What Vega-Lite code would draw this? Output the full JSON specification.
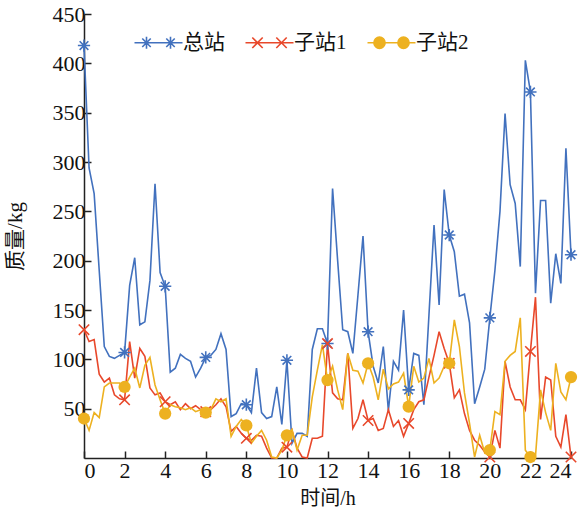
{
  "$schema": "https://vega.github.io/schema/vega-lite/v6.json",
  "width": 487,
  "height": 444,
  "autosize": {"type": "none"},
  "padding": {"left": 84, "top": 14, "right": 13, "bottom": 54},
  "background": "white",
  "config": {
    "view": {"stroke": null},
    "font": "Liberation Serif, Noto Sans CJK SC",
    "axis": {
      "domainColor": "#222",
      "domainWidth": 1.5,
      "tickColor": "#222",
      "tickWidth": 1.5,
      "grid": false,
      "labelFont": "Liberation Serif",
      "labelFontSize": 22,
      "labelColor": "#111",
      "titleFont": "Liberation Serif, Noto Sans CJK SC",
      "titleFontSize": 21,
      "titleFontWeight": "normal",
      "titleColor": "#111"
    }
  },
  "data": {
    "values": [
      {"t":0,"总站":418,"子站1":130,"子站2":40},
      {"t":0.25,"总站":294,"子站1":118,"子站2":28},
      {"t":0.5,"总站":268,"子站1":120,"子站2":46},
      {"t":0.75,"总站":190,"子站1":85,"子站2":41},
      {"t":1,"总站":113,"子站1":77,"子站2":72},
      {"t":1.25,"总站":103,"子站1":81,"子站2":76},
      {"t":1.5,"总站":101,"子站1":64,"子站2":76},
      {"t":1.75,"总站":104,"子站1":60,"子站2":76},
      {"t":2,"总站":107,"子站1":59,"子站2":72},
      {"t":2.25,"总站":175,"子站1":118,"子站2":82},
      {"t":2.5,"总站":203,"子站1":81,"子站2":91},
      {"t":2.75,"总站":135,"子站1":111,"子站2":71},
      {"t":3,"总站":138,"子站1":103,"子站2":94},
      {"t":3.25,"总站":180,"子站1":71,"子站2":102},
      {"t":3.5,"总站":278,"子站1":64,"子站2":74},
      {"t":3.75,"总站":188,"子站1":66,"子站2":59},
      {"t":4,"总站":174,"子站1":57,"子站2":45},
      {"t":4.25,"总站":87,"子站1":54,"子站2":54},
      {"t":4.5,"总站":91,"子站1":57,"子站2":52},
      {"t":4.75,"总站":105,"子站1":49,"子站2":51},
      {"t":5,"总站":101,"子站1":55,"子站2":49},
      {"t":5.25,"总站":98,"子站1":50,"子站2":51},
      {"t":5.5,"总站":82,"子站1":53,"子站2":47},
      {"t":5.75,"总站":91,"子站1":49,"子站2":49},
      {"t":6,"总站":102,"子站1":47,"子站2":46},
      {"t":6.25,"总站":104,"子站1":49,"子站2":49},
      {"t":6.5,"总站":110,"子站1":54,"子站2":60},
      {"t":6.75,"总站":126,"子站1":60,"子站2":57},
      {"t":7,"总站":110,"子站1":52,"子站2":60},
      {"t":7.25,"总站":42,"子站1":27,"子站2":22},
      {"t":7.5,"总站":45,"子站1":32,"子站2":32},
      {"t":7.75,"总站":55,"子站1":25,"子站2":39},
      {"t":8,"总站":54,"子站1":20,"子站2":33},
      {"t":8.25,"总站":46,"子站1":18,"子站2":15},
      {"t":8.5,"总站":91,"子站1":23,"子站2":22},
      {"t":8.75,"总站":46,"子站1":22,"子站2":28},
      {"t":9,"总站":40,"子站1":10,"子站2":18},
      {"t":9.25,"总站":42,"子站1":0,"子站2":1},
      {"t":9.5,"总站":72,"子站1":0,"子站2":0},
      {"t":9.75,"总站":34,"子站1":10,"子站2":8},
      {"t":10,"总站":99,"子站1":11,"子站2":23},
      {"t":10.25,"总站":15,"子站1":28,"子站2":29},
      {"t":10.5,"总站":25,"子站1":10,"子站2":8},
      {"t":10.75,"总站":25,"子站1":1,"子站2":23},
      {"t":11,"总站":22,"子站1":0,"子站2":23},
      {"t":11.25,"总站":110,"子站1":20,"子站2":62},
      {"t":11.5,"总站":131,"子站1":20,"子站2":89},
      {"t":11.75,"总站":131,"子站1":22,"子站2":115},
      {"t":12,"总站":116,"子站1":116,"子站2":79},
      {"t":12.25,"总站":273,"子站1":66,"子站2":93},
      {"t":12.5,"总站":200,"子站1":60,"子站2":69},
      {"t":12.75,"总站":130,"子站1":59,"子站2":49},
      {"t":13,"总站":128,"子站1":106,"子站2":106},
      {"t":13.25,"总站":106,"子站1":30,"子站2":89},
      {"t":13.5,"总站":165,"子站1":40,"子站2":88},
      {"t":13.75,"总站":225,"子站1":59,"子站2":76},
      {"t":14,"总站":128,"子站1":38,"子站2":96},
      {"t":14.25,"总站":93,"子站1":40,"子站2":82},
      {"t":14.5,"总站":76,"子站1":28,"子站2":59},
      {"t":14.75,"总站":113,"子站1":30,"子站2":90},
      {"t":15,"总站":48,"子站1":49,"子站2":70},
      {"t":15.25,"总站":98,"子站1":32,"子站2":75},
      {"t":15.5,"总站":89,"子站1":38,"子站2":77},
      {"t":15.75,"总站":150,"子站1":22,"子站2":86},
      {"t":16,"总站":69,"子站1":35,"子站2":52},
      {"t":16.25,"总站":106,"子站1":49,"子站2":93},
      {"t":16.5,"总站":104,"子站1":57,"子站2":77},
      {"t":16.75,"总站":54,"子站1":59,"子站2":81},
      {"t":17,"总站":145,"子站1":82,"子站2":101},
      {"t":17.25,"总站":236,"子站1":104,"子站2":76},
      {"t":17.5,"总站":155,"子站1":128,"子站2":81},
      {"t":17.75,"总站":272,"子站1":111,"子站2":93},
      {"t":18,"总站":226,"子站1":96,"子站2":96},
      {"t":18.25,"总站":209,"子站1":61,"子站2":140},
      {"t":18.5,"总站":164,"子站1":69,"子站2":113},
      {"t":18.75,"总站":166,"子站1":45,"子站2":66},
      {"t":19,"总站":137,"子站1":28,"子站2":35},
      {"t":19.25,"总站":55,"子站1":18,"子站2":1},
      {"t":19.5,"总站":72,"子站1":13,"子站2":23},
      {"t":19.75,"总站":90,"子站1":6,"子站2":5},
      {"t":20,"总站":142,"子站1":1,"子站2":8},
      {"t":20.25,"总站":190,"子站1":28,"子站2":47},
      {"t":20.5,"总站":250,"子站1":10,"子站2":44},
      {"t":20.75,"总站":349,"子站1":98,"子站2":98},
      {"t":21,"总站":277,"子站1":72,"子站2":104},
      {"t":21.25,"总站":258,"子站1":59,"子站2":108},
      {"t":21.5,"总站":194,"子站1":59,"子站2":142},
      {"t":21.75,"总站":403,"子站1":49,"子站2":8},
      {"t":22,"总站":371,"子站1":108,"子站2":1},
      {"t":22.25,"总站":167,"子站1":163,"子站2":2},
      {"t":22.5,"总站":261,"子站1":39,"子站2":69},
      {"t":22.75,"总站":261,"子站1":82,"子站2":46},
      {"t":23,"总站":157,"子站1":79,"子站2":28},
      {"t":23.25,"总站":207,"子站1":22,"子站2":96},
      {"t":23.5,"总站":177,"子站1":11,"子站2":67},
      {"t":23.75,"总站":314,"子站1":44,"子站2":59},
      {"t":24,"总站":206,"子站1":1,"子站2":82}
    ]
  },
  "transform": [{"fold": ["总站", "子站1", "子站2"], "as": ["s", "v"]}],
  "encoding": {
    "x": {
      "field": "t", "type": "quantitative",
      "scale": {"domain": [0, 24], "nice": false, "zero": false},
      "axis": {"values": [0,2,4,6,8,10,12,14,16,18,20,22,24], "title": "时间/h", "tickSize": -7, "labelPadding": 9, "titlePadding": 7, "titleFontSize": 20}
    },
    "y": {
      "field": "v", "type": "quantitative",
      "scale": {"domain": [0, 450], "nice": false},
      "axis": {"values": [50,100,150,200,250,300,350,400,450], "title": "质量/kg", "tickSize": -7, "labelPadding": 6, "titlePadding": 27}
    }
  },
  "layer": [
    {
      "mark": {"type": "line", "strokeWidth": 1.6},
      "encoding": {
        "color": {
          "field": "s", "type": "nominal",
          "scale": {"domain": ["总站", "子站1", "子站2"], "range": ["#4271BE", "#E8482B", "#EDB120"]},
          "legend": {
            "orient": "none", "legendX": 64, "legendY": 18, "direction": "horizontal", "title": null,
            "labelFont": "Liberation Serif, Noto Sans CJK SC", "labelFontSize": 21, "labelColor": "#111",
            "symbolSize": 64, "symbolStrokeWidth": 1.6, "labelOffset": 14, "columnPadding": 17,
            "encode": {
              "symbols": {
                "update": {
                  "shape": {"signal": "datum.value === '总站' ? 'M-6,0H6M-3,-1.5V1.5M-4.5,0H-1.5M-4.06,-1.06L-1.94,1.06M-4.06,1.06L-1.94,-1.06M3,-1.5V1.5M1.5,0H4.5M1.94,-1.06L4.06,1.06M1.94,1.06L4.06,-1.06' : datum.value === '子站1' ? 'M-6,0H6M-4.3,-1.3L-1.7,1.3M-4.3,1.3L-1.7,-1.3M1.7,-1.3L4.3,1.3M1.7,1.3L4.3,-1.3' : 'M-6,0H6M-1.6,0A1.4,1.4 0 1 1 -4.4,0A1.4,1.4 0 1 1 -1.6,0ZM4.4,0A1.4,1.4 0 1 1 1.6,0A1.4,1.4 0 1 1 4.4,0Z'"},
                  "fill": {"signal": "datum.value === '子站2' ? '#EDB120' : 'transparent'"}
                }
              }
            }
          }
        }
      }
    },
    {
      "transform": [{"filter": "datum.t % 2 === 0 && datum.s !== '子站2'"}],
      "mark": {"type": "point", "filled": false, "strokeWidth": 1.6, "size": 150, "opacity": 1},
      "encoding": {
        "color": {"field": "s", "type": "nominal", "scale": {"domain": ["总站", "子站1", "子站2"], "range": ["#4271BE", "#E8482B", "#EDB120"]}, "legend": null},
        "shape": {
          "field": "s", "type": "nominal",
          "scale": {"domain": ["总站", "子站1"], "range": ["M0,-1V1M-1,0H1M-0.71,-0.71L0.71,0.71M-0.71,0.71L0.71,-0.71", "M-0.85,-0.85L0.85,0.85M-0.85,0.85L0.85,-0.85"]},
          "legend": null
        }
      }
    },
    {
      "transform": [{"filter": "datum.t % 2 === 0 && datum.s === '子站2'"}],
      "mark": {"type": "circle", "size": 150, "opacity": 1, "color": "#EDB120"}
    }
  ]
}
